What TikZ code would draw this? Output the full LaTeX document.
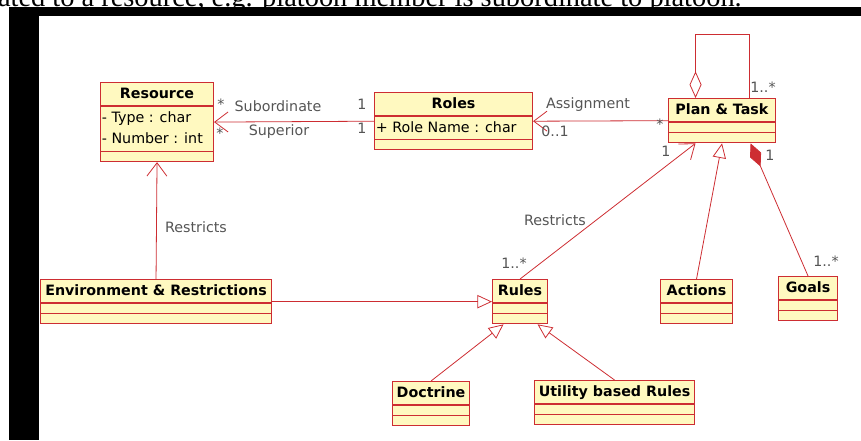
\documentclass[tikz,border=0pt]{standalone}
\usepackage{fontspec}
\newfontfamily\umlfont{DejaVu Sans}
\newfontfamily\pagefont{Liberation Serif}
\usepackage{tikz}
\usetikzlibrary{arrows.meta, shapes.multipart, calc}
\definecolor{umlred}{RGB}{205,45,50}
\definecolor{umlfill}{RGB}{255,249,192}
\definecolor{umlgray}{RGB}{85,85,85}

\begin{document}
\begin{tikzpicture}[x=0.75pt, y=-0.75pt,
    font=\umlfont\fontsize{10.7pt}{16.3pt}\selectfont,
    umlclass/.style={rectangle split, rectangle split parts=3,
        rectangle split part align={center,left,left},
        rectangle split empty part height=6.5pt, rectangle split empty part depth=0pt,
        draw=umlred, fill=umlfill, line width=0.8pt, inner xsep=1pt, inner ysep=0.25pt,
        anchor=north west, text=black},
    lbl/.style={text=umlgray, inner sep=0pt},
    link/.style={draw=umlred, line width=0.6pt},
    assoc/.style={link, -{Straight Barb[length=10pt, width=15pt]}},
    gen/.style={link, -{Triangle[open, length=11pt, width=10pt]}},
    comp/.style={link, {Diamond[length=19pt, width=9pt]}-},
    aggr/.style={link, {Diamond[open, length=20pt, width=9pt]}-}]
    \path[use as bounding box, clip] (0,0) rectangle (861,440);

    % page around the screenshot
    \fill[black] (9,7) rectangle (861,16);
    \fill[black] (9,7) rectangle (39,440);
    \node[font=\pagefont\fontsize{21.3pt}{25pt}\selectfont, anchor=base east, inner sep=0pt] (caption) at (742,6)
        {ated to a resource, e.g. platoon member is subordinate to platoon.};

    % classes
    \node[umlclass, minimum width=113*0.75pt] (res) at (100,82) {\strut\textbf{Resource}\nodepart{two}\begin{tabular}{@{}l@{}}- Type : char\\- Number : int\end{tabular}\nodepart{three}};
    \node[umlclass, minimum width=158*0.75pt] (roles) at (374,92) {\strut\textbf{Roles}\nodepart{two}\strut+ Role Name : char\nodepart{three}};
    \foreach \nm/\txt/\x/\y/\w in {plan/Plan \& Task/668/98/107, env/Environment \& Restrictions/40/279/231,
        rules/Rules/492/279/55, actions/Actions/660/279/72, goals/Goals/778/276/59,
        doctrine/Doctrine/392/381/77, utility/Utility based Rules/534/380/160}
        \node[umlclass, minimum width=\w*0.75pt] (\nm) at (\x,\y) {\strut\textbf{\txt}\nodepart{two}\nodepart{three}};

    % associations
    \draw[assoc] (roles.west) -- (res.east);
    \draw[assoc] (plan.west) -- (roles.east);
    \draw[assoc] (env.north) -- (res.south);
    \draw[assoc] (rules.north) -- ($(plan.south)+(-26.5,0)$);

    % generalisations
    \draw[gen] (env.east) -- (rules.west);
    \draw[gen] (actions.north) -- (plan.south);
    \draw[gen] (doctrine.north) -- ($(rules.south)+(-16.5,0)$);
    \draw[gen] (utility.north) -- ($(rules.south)+(17.5,0)$);

    % composition and self aggregation
    \draw[comp] ($(plan.south)+(28.5,0)$) -- (goals.north);
    \draw[aggr] ($(plan.north)+(-26.5,0)$) -- ++(0,-64) -| ($(plan.north)+(27.5,0)$);

    % role names and multiplicities
    \node[lbl] (lsub) at (278,106) {Subordinate};
    \node[lbl] (lsup) at (279,132) {Superior};
    \node[lbl] (msub) at (221,104) {*};
    \node[lbl] (msup) at (220,133) {*};
    \node[lbl] (rsub) at (362,104) {1};
    \node[lbl] (rsup) at (362,128) {1};
    \node[lbl] (lasg) at (588,105) {Assignment};
    \node[lbl] (masg) at (555,131) {0..1};
    \node[lbl] (pasg) at (660,124) {*};
    \node[lbl] (mloop) at (763,87) {1..*};
    \node[lbl] (lenv) at (196,227) {Restricts};
    \node[lbl] (lrules) at (555,220) {Restricts};
    \node[lbl] (mrules) at (514,263) {1..*};
    \node[lbl] (mplan) at (666,151) {1};
    \node[lbl] (mcomp) at (770,155) {1};
    \node[lbl] (mgoals) at (826,261) {1..*};
\end{tikzpicture}
\end{document}
